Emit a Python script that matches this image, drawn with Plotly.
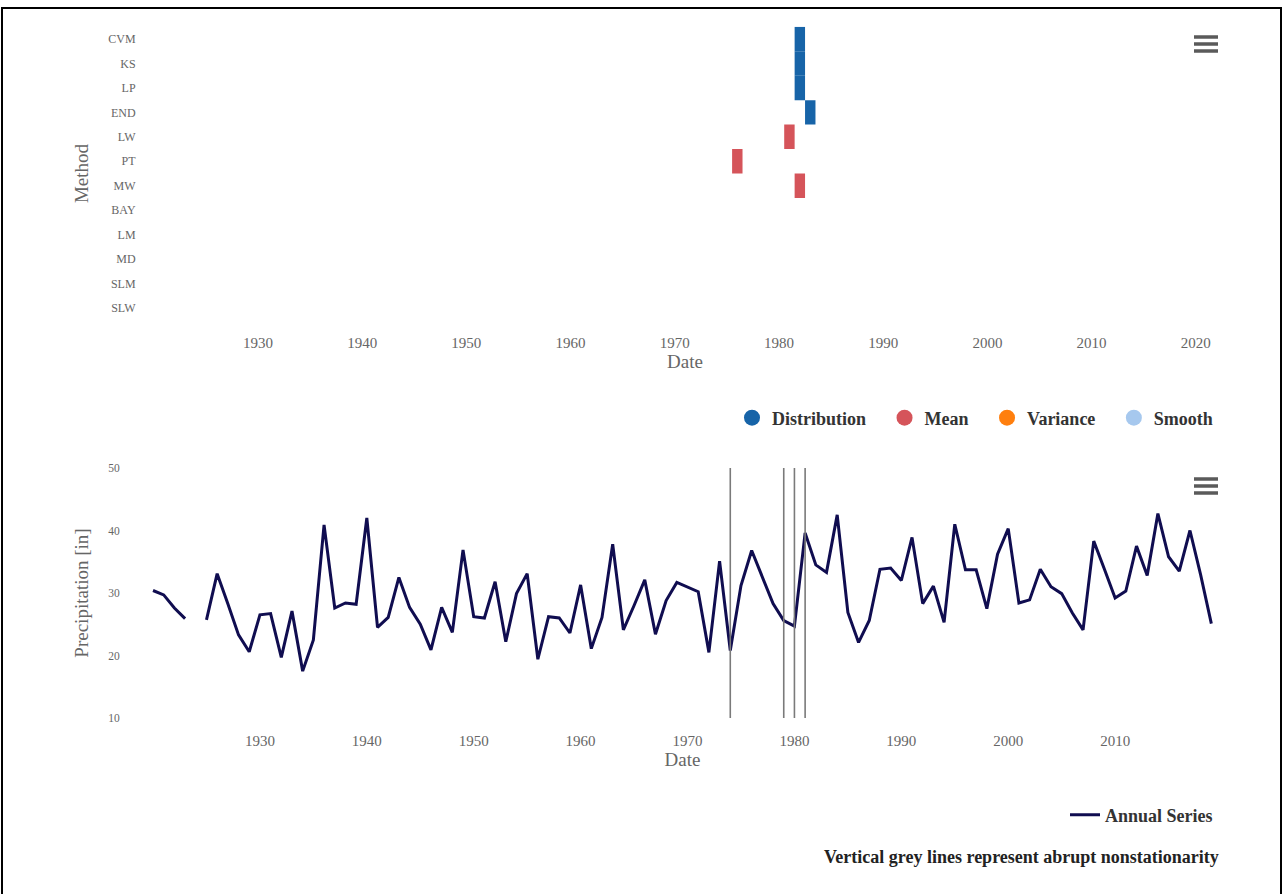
import plotly.graph_objects as go

# ---------------- data ----------------
methods = ["CVM", "KS", "LP", "END", "LW", "PT", "MW", "BAY", "LM", "MD", "SLM", "SLW"]

dist_methods = ["CVM", "KS", "LP", "END"]
dist_years = [1982, 1982, 1982, 1983]

mean_methods = ["LW", "PT", "MW"]
mean_years = [1981, 1976, 1982]

years = list(range(1920, 2020))
precip = [
    30.4, 29.7, 27.6, 25.9, None, 25.7, 33.1, 28.3, 23.3, 20.6,   # 1920-1929
    26.5, 26.7, 19.7, 27.1, 17.5, 22.5, 40.9, 27.6, 28.4, 28.2,   # 1930-1939
    42.0, 24.5, 26.1, 32.5, 27.7, 25.0, 20.9, 27.7, 23.7, 36.9,   # 1940-1949
    26.2, 26.0, 31.8, 22.2, 29.9, 33.1, 19.4, 26.2, 26.0, 23.6,   # 1950-1959
    31.3, 21.1, 26.1, 37.8, 24.1, 28.0, 32.1, 23.4, 28.8, 31.7,   # 1960-1969
    31.0, 30.2, 20.5, 35.1, 20.8, 31.2, 36.8, 32.5, 28.3, 25.6,   # 1970-1979
    24.7, 39.6, 34.5, 33.3, 42.5, 26.9, 22.1, 25.6, 33.8, 34.0,   # 1980-1989
    32.0, 38.9, 28.3, 31.1, 25.3, 41.0, 33.7, 33.7, 27.5, 36.2,   # 1990-1999
    40.3, 28.4, 28.9, 33.8, 31.0, 29.9, 26.8, 24.1, 38.3, 33.8,   # 2000-2009
    29.2, 30.3, 37.5, 32.8, 42.7, 35.8, 33.5, 40.0, 32.9, 25.1,   # 2010-2019
]

breakpoints = [1974, 1979, 1980, 1981]

legend_names = ["Distribution", "Mean", "Variance", "Smooth"]
legend_colors = ["#1764a8", "#d5545a", "#ff7f0e", "#a6c8ee"]

# ---------------- figure ----------------
W, H = 1285, 894
SERIF = "Liberation Serif, Times New Roman, serif"
GREY = "#666666"
NB = "\u00a0"


def fx(px):
    return px / W


def fy(py):
    return 1 - py / H


fig = go.Figure()

# top chart: change points per method
fig.add_trace(go.Bar(
    y=dist_methods, x=[1] * len(dist_methods), base=[y - 0.5 for y in dist_years],
    orientation="h", width=1, marker=dict(color=legend_colors[0], line=dict(width=0)),
    showlegend=False, xaxis="x", yaxis="y", hoverinfo="skip",
))
fig.add_trace(go.Bar(
    y=mean_methods, x=[1] * len(mean_methods), base=[y - 0.5 for y in mean_years],
    orientation="h", width=1, marker=dict(color=legend_colors[1], line=dict(width=0)),
    showlegend=False, xaxis="x", yaxis="y", hoverinfo="skip",
))
for i, (name, col) in enumerate(zip(legend_names, legend_colors)):
    pad = NB * 3 if i < len(legend_names) - 1 else ""
    fig.add_trace(go.Scatter(
        x=[None], y=[None], mode="markers", name=name + pad,
        marker=dict(symbol="circle", size=16, color=col),
        xaxis="x", yaxis="y", legend="legend",
    ))

# bottom chart: annual series
fig.add_trace(go.Scatter(
    x=years, y=precip, mode="lines", name="Annual Series",
    line=dict(color="#100d50", width=3),
    connectgaps=False, xaxis="x2", yaxis="y2", legend="legend2",
))

shapes = []
for b in breakpoints:
    shapes.append(dict(type="line", xref="x2", yref="y2", x0=b, x1=b, y0=10, y1=50,
                       line=dict(color="#7a7a7a", width=1.6), layer="above"))

# hamburger (context menu) icons
for cy in (44, 486):
    for dy in (-7, 0, 7):
        shapes.append(dict(type="line", xref="paper", yref="paper",
                           x0=fx(1194), x1=fx(1218), y0=fy(cy + dy), y1=fy(cy + dy),
                           line=dict(color="#5a5a5a", width=3.5)))

# outer frame
shapes.append(dict(type="rect", xref="paper", yref="paper",
                   x0=fx(2), x1=fx(1281), y0=-0.05, y1=fy(8),
                   line=dict(color="black", width=2), fillcolor="rgba(0,0,0,0)"))

tickfont_small = dict(family=SERIF, size=12, color=GREY)
tickfont_ysmall = dict(family=SERIF, size=11.5, color=GREY)
tickfont_x = dict(family=SERIF, size=15, color=GREY)
title_font = dict(family=SERIF, size=19, color=GREY)
legend_font = dict(family=SERIF, size=18, color="#333333", weight="bold")

fig.update_layout(
    width=W, height=H,
    margin=dict(l=0, r=0, t=0, b=0, autoexpand=False),
    paper_bgcolor="white", plot_bgcolor="white",
    template="none",
    barmode="overlay",
    xaxis=dict(domain=[fx(145), fx(1225)], range=[1919.16, 2022.80],
               tickvals=list(range(1930, 2021, 10)), tickfont=tickfont_x,
               ticks="outside", ticklen=9, tickcolor="rgba(0,0,0,0)",
               showgrid=False, zeroline=False, showline=False, automargin=False,
               title=dict(text="Date", font=title_font, standoff=0),
               anchor="y"),
    yaxis=dict(domain=[fy(320.2), fy(26.8)], type="category",
               categoryorder="array", categoryarray=methods, range=[11.5, -0.5],
               tickfont=tickfont_small, ticks="outside", ticklen=6,
               tickcolor="rgba(0,0,0,0)", showgrid=False, zeroline=False,
               showline=False, automargin=False,
               title=dict(text="Method", font=title_font, standoff=14),
               anchor="x"),
    xaxis2=dict(domain=[fx(145), fx(1220)], range=[1919.25, 2019.81],
                tickvals=list(range(1930, 2011, 10)), tickfont=tickfont_x,
                ticks="outside", ticklen=9, tickcolor="rgba(0,0,0,0)",
                showgrid=False, zeroline=False, showline=False, automargin=False,
                title=dict(text="Date", font=title_font, standoff=0),
                anchor="y2"),
    yaxis2=dict(domain=[fy(718), fy(468)], range=[10, 50],
                tickvals=[10, 20, 30, 40, 50], tickfont=tickfont_ysmall,
                ticks="outside", ticklen=22, tickcolor="rgba(0,0,0,0)",
                showgrid=False, zeroline=False, showline=False, automargin=False,
                title=dict(text="Precipitation [in]", font=title_font, standoff=14),
                anchor="x2"),
    legend=dict(orientation="h", x=fx(1218), xanchor="right", y=fy(418), yanchor="middle",
                font=legend_font, bgcolor="rgba(0,0,0,0)", itemsizing="trace"),
    legend2=dict(orientation="h", x=fx(1218), xanchor="right", y=fy(815), yanchor="middle",
                 font=legend_font, bgcolor="rgba(0,0,0,0)"),
    annotations=[dict(text="<b>Vertical grey lines represent abrupt nonstationarity</b>",
                      xref="paper", yref="paper", x=fx(1221), y=fy(857),
                      xanchor="right", yanchor="middle", showarrow=False,
                      font=dict(family=SERIF, size=18, color="#222222"))],
    shapes=shapes,
    showlegend=True,
)

fig.write_html("out.html", config={"displayModeBar": False},
               post_script="document.body.style.margin='0px';")
